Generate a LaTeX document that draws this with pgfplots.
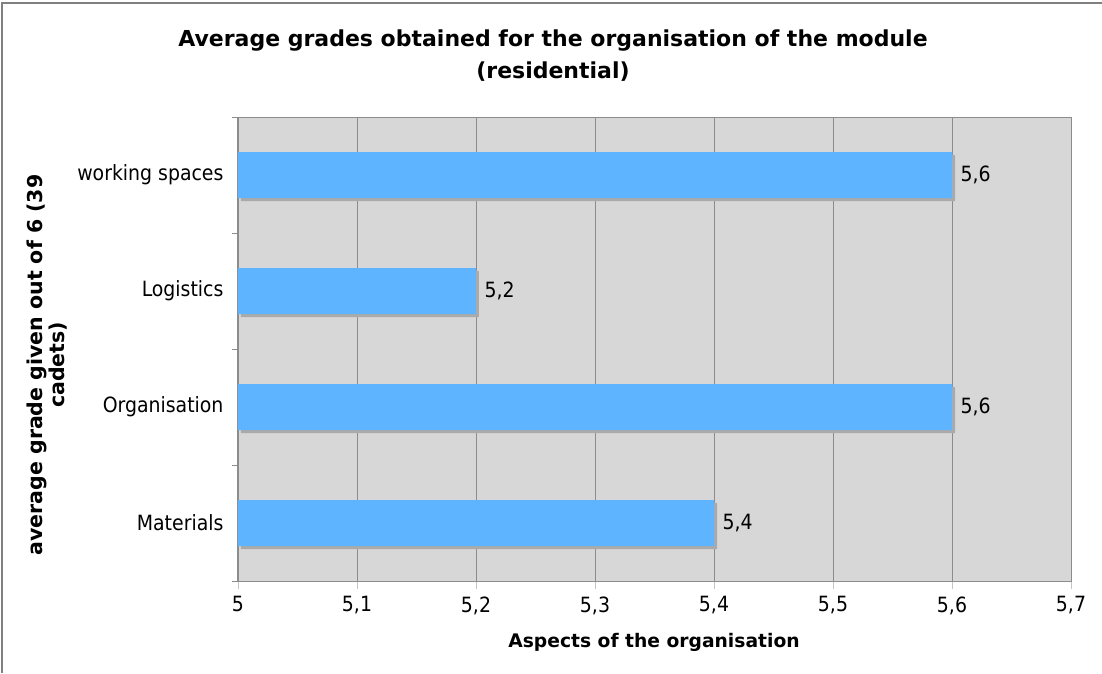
\documentclass[border=0pt]{standalone}
\usepackage{pgfplots}
\pgfplotsset{compat=1.18}
\usepackage{fontspec}
\setmainfont{DejaVu Sans Condensed}
\newfontfamily\widebf{DejaVu Sans}
\usetikzlibrary{shadows}
\definecolor{barblue}{RGB}{94,180,255}
\definecolor{plotbg}{RGB}{215,215,215}
\definecolor{gridc}{RGB}{140,140,140}
\definecolor{shadowc}{RGB}{170,170,170}
\begin{document}
\begin{tikzpicture}[x=1pt,y=1pt]
\path[use as bounding box] (-238,-92) rectangle (864,581);
\draw[gray,line width=1.2pt] (-236,-92) -- (-236,578) -- (864,578);
\begin{axis}[
  at={(0,0)}, anchor=south west,
  scale only axis,
  width=833pt, height=464pt,
  xmin=5, xmax=5.7,
  ymin=-0.5, ymax=3.5,
  xtick={5,5.1,5.2,5.3,5.4,5.5,5.6,5.7},
  ytick={0,1,2,3},
  yticklabels={Materials,Organisation,Logistics,working spaces},
  minor ytick={-0.5,0.5,1.5,2.5,3.5},
  xtick pos=bottom, ytick pos=left,
  tick align=outside,
  major tick length=8pt,
  minor tick length=6pt,
  ytick style={draw=none},
  minor y tick style={draw=gridc, line width=0.8pt},
  xtick style={draw=gridc!50, line width=0.8pt},
  xmajorgrids,
  major grid style={draw=gridc, line width=0.8pt},
  axis line style={draw=gridc, line width=1pt},
  axis background/.style={fill=plotbg},
  /pgf/number format/use comma,
  /pgf/number format/fixed,
  /pgf/number format/precision=1,
  /pgf/number format/assume math mode=true,
  ticklabel style={font=\fontsize{21}{24}\selectfont},
  xticklabel style={yshift=-4pt},
  yticklabel style={xshift=-3pt},
  xbar,
  bar width=46pt,
  bar shift=0pt,
  nodes near coords,
  nodes near coords style={font=\fontsize{21}{24}\selectfont, anchor=west, xshift=5pt},
  clip=false,
]
\addplot[fill=barblue, draw=none, drop shadow={shadow xshift=3pt, shadow yshift=-3pt, fill=shadowc, opacity=1}]
  coordinates {(5.4,0) (5.6,1) (5.2,2) (5.6,3)};
\end{axis}
\node[font=\widebf\bfseries\fontsize{22}{32}\selectfont, align=center] at (315,525)
  {Average grades obtained for the organisation of the module\\(residential)};
\node[font=\widebf\bfseries\fontsize{20.5}{22}\selectfont, align=center, rotate=90] at (-191,216)
  {average grade given out of 6 (39\\cadets)};
\node[font=\widebf\bfseries\fontsize{18.7}{24}\selectfont] at (416,-61) {Aspects of the organisation};
\end{tikzpicture}
\end{document}
